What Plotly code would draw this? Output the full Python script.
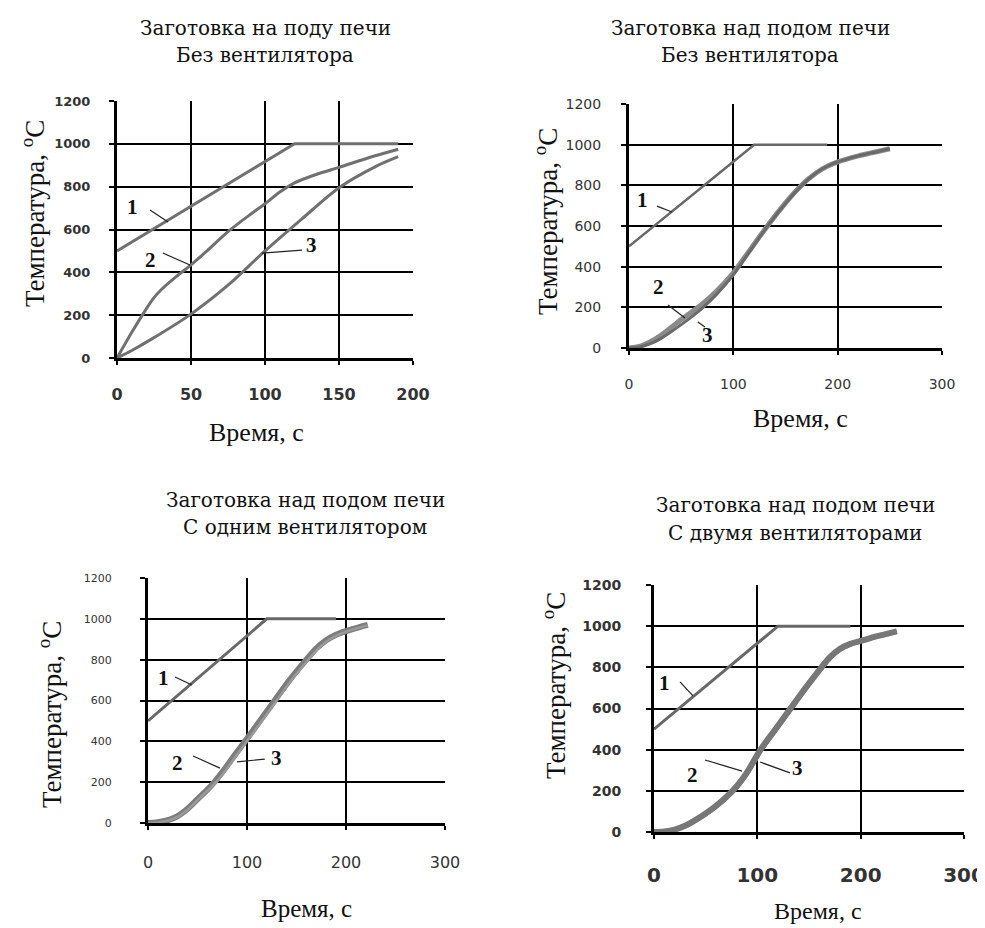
import plotly.graph_objects as go

W, H = 985, 928
OFF = 8  # page body margin of the browser

# ---------------- data ----------------
# Panel 1: billet on furnace floor, no fan
p1_c1_x = [0, 120, 190]
p1_c1_y = [500, 1000, 1000]
p1_c2_x = [0, 10, 20, 25, 30, 40, 50, 60, 75, 90, 100, 110, 120, 135, 150, 170, 190]
p1_c2_y = [0, 120, 232, 282, 320, 380, 435, 495, 590, 670, 720, 775, 818, 858, 890, 935, 975]
p1_c3_x = [0, 10, 25, 50, 75, 100, 125, 150, 175, 190]
p1_c3_y = [0, 35, 95, 205, 340, 500, 650, 795, 895, 940]

# Panel 2: billet above floor, no fan
p2_c1_x = [0, 120, 190]
p2_c1_y = [500, 1000, 1000]
p2_c2_x = [0, 10, 20, 30, 50, 70, 85, 100, 115, 130, 145, 160, 172, 185, 200, 220, 250]
p2_c2_y = [0, 8, 30, 60, 140, 215, 285, 370, 475, 582, 682, 772, 832, 880, 915, 945, 980]
p2_c3_x = [0, 10, 20, 30, 50, 70, 85, 100, 115, 130, 145, 160, 172, 185, 200, 220, 250]
p2_c3_y = [0, 5, 20, 45, 115, 195, 270, 360, 470, 580, 680, 770, 830, 880, 915, 945, 980]

# Panel 3: billet above floor, one fan
p3_c1_x = [0, 120, 190]
p3_c1_y = [500, 1000, 1000]
p3_c2_x = [0, 10, 20, 30, 40, 50, 60, 67, 78, 88, 98, 113, 128, 143, 160, 170, 180, 190, 200, 212, 222]
p3_c2_y = [0, 4, 14, 34, 70, 117, 163, 200, 268, 335, 400, 500, 600, 700, 800, 855, 895, 922, 940, 957, 970]
p3_c3_x = [0, 10, 20, 30, 40, 50, 60, 69, 80, 90, 100, 115, 130, 145, 162, 172, 182, 192, 200, 212, 222]
p3_c3_y = [0, 3, 12, 30, 65, 112, 158, 200, 268, 335, 400, 500, 600, 700, 800, 855, 895, 922, 937, 955, 968]

# Panel 4: billet above floor, two fans
p4_c1_x = [0, 120, 190]
p4_c1_y = [500, 1000, 1000]
p4_c2_x = [0, 10, 20, 30, 40, 50, 60, 70, 80, 90, 103, 118, 132, 147, 162, 170, 180, 190, 200, 215, 235]
p4_c2_y = [0, 3, 12, 30, 58, 90, 127, 170, 222, 290, 400, 503, 600, 703, 800, 848, 890, 914, 928, 950, 975]
p4_c3_x = [0, 10, 20, 30, 40, 50, 60, 70, 81, 91, 104, 119, 133, 148, 163, 171, 181, 191, 201, 216, 235]
p4_c3_y = [0, 2, 10, 27, 54, 86, 122, 165, 220, 288, 398, 501, 598, 701, 798, 846, 888, 912, 927, 949, 973]

y_ticks = [0, 200, 400, 600, 800, 1000, 1200]
x_ticks_p1 = [0, 50, 100, 150, 200]
x_ticks_300 = [0, 100, 200, 300]

titles = [
    ("Заготовка на поду печи", "Без вентилятора"),
    ("Заготовка над подом печи", "Без вентилятора"),
    ("Заготовка над подом печи", "С одним вентилятором"),
    ("Заготовка над подом печи", "С двумя вентиляторами"),
]
x_title = "Время, с"
y_title = "Температура, <sup>o</sup>C"

# ---------------- layout helpers ----------------
def pxx(a):
    return (a - OFF) / W

def pxy(b):
    return 1 - (b - OFF) / H

def px_dom(a, b):
    return [pxx(a), pxx(b)]

def py_dom(top, bottom):
    return [pxy(bottom), pxy(top)]

panels = [
    dict(xd=px_dom(117, 413), yd=py_dom(101, 358), xr=[0, 200], xt=x_ticks_p1,
         yfs=13, xfs=16, bold=True, ystand=16, xstand=16),
    dict(xd=px_dom(629, 942), yd=py_dom(104, 348), xr=[0, 300], xt=x_ticks_300,
         yfs=14, xfs=14, bold=False, ystand=17, xstand=17),
    dict(xd=px_dom(148, 445), yd=py_dom(578, 823), xr=[0, 300], xt=x_ticks_300,
         yfs=11, xfs=16, bold=False, ystand=26, xstand=19),
    dict(xd=px_dom(654, 964), yd=py_dom(585, 832), xr=[0, 300], xt=x_ticks_300,
         yfs=14, xfs=20, bold=True, ystand=22, xstand=19),
]

fig = go.Figure()

series = [
    [(p1_c1_x, p1_c1_y), (p1_c2_x, p1_c2_y), (p1_c3_x, p1_c3_y)],
    [(p2_c1_x, p2_c1_y), (p2_c2_x, p2_c2_y), (p2_c3_x, p2_c3_y)],
    [(p3_c1_x, p3_c1_y), (p3_c2_x, p3_c2_y), (p3_c3_x, p3_c3_y)],
    [(p4_c1_x, p4_c1_y), (p4_c2_x, p4_c2_y), (p4_c3_x, p4_c3_y)],
]

styles = [
    [dict(color="#707070", width=3), dict(color="#707070", width=3), dict(color="#707070", width=3)],
    [dict(color="#686868", width=2.5), dict(color="#8a8a8a", width=5), dict(color="#6a6a6a", width=3)],
    [dict(color="#686868", width=3), dict(color="#7c7c7c", width=6), dict(color="#999999", width=2.5)],
    [dict(color="#686868", width=3), dict(color="#777777", width=6), dict(color="#777777", width=4)],
]

for i, ser in enumerate(series):
    sfx = "" if i == 0 else str(i + 1)
    for j, (xs, ys) in enumerate(ser):
        fig.add_trace(go.Scatter(
            x=xs, y=ys, mode="lines",
            line=dict(shape="spline", smoothing=0.8 if j else 0, **styles[i][j]),
            xaxis="x" + sfx, yaxis="y" + sfx, showlegend=False, hoverinfo="skip"))

layout = dict(
    width=W, height=H, margin=dict(l=0, r=0, t=0, b=0, autoexpand=False),
    paper_bgcolor="white", plot_bgcolor="white", showlegend=False,
)
for i, p in enumerate(panels):
    sfx = "" if i == 0 else str(i + 1)
    fw = "bold" if p["bold"] else "normal"
    layout["xaxis" + sfx] = dict(
        domain=p["xd"], range=p["xr"], tickvals=p["xt"], anchor="y" + sfx,
        automargin=False,
        showgrid=True, gridcolor="black", gridwidth=1.5, zeroline=False,
        showline=True, linecolor="black", linewidth=3,
        ticks="outside", ticklen=4, tickcolor="black", tickwidth=1.5,
        ticklabelstandoff=p["xstand"],
        tickfont=dict(family="DejaVu Sans", size=p["xfs"], color="#333", weight=fw),
        fixedrange=True)
    layout["yaxis" + sfx] = dict(
        domain=p["yd"], range=[0, 1200], tickvals=y_ticks, anchor="x" + sfx,
        automargin=False,
        showgrid=True, gridcolor="black", gridwidth=1.5, zeroline=False,
        showline=True, linecolor="black", linewidth=3,
        ticks="outside", ticklen=5, tickcolor="black", tickwidth=1.5,
        ticklabelstandoff=p["ystand"],
        tickfont=dict(family="DejaVu Sans", size=p["yfs"], color="#333", weight=fw),
        fixedrange=True)
fig.update_layout(**layout)

SERIF = "Liberation Serif, Times New Roman, serif"
SLAB = "DejaVu Serif, serif"
ann = []

# panel titles (two lines each)
title_pos = [(265, 28, 55), (750, 28, 55), (305, 500, 527), (795, 505, 533)]
for (l1, l2), (cx, y1, y2) in zip(titles, title_pos):
    for txt, yy in ((l1, y1), (l2, y2)):
        ann.append(dict(text=txt, x=pxx(cx), y=pxy(yy), xref="paper", yref="paper",
                        showarrow=False, xanchor="center", yanchor="middle",
                        font=dict(family=SLAB, size=20, color="#111")))

# axis titles
xt_pos = [(256, 432, 26), (800, 418, 26), (306, 908, 25), (818, 911, 24)]
for cx, cy, fs in xt_pos:
    ann.append(dict(text=x_title, x=pxx(cx), y=pxy(cy), xref="paper", yref="paper",
                    showarrow=False, xanchor="center", yanchor="middle",
                    font=dict(family=SERIF, size=fs, color="#111")))
yt_pos = [(33, 214), (546, 222), (50, 715), (554, 686)]
for cx, cy in yt_pos:
    ann.append(dict(text=y_title, x=pxx(cx), y=pxy(cy), xref="paper", yref="paper",
                    showarrow=False, xanchor="center", yanchor="middle", textangle=-90,
                    font=dict(family=SERIF, size=27, color="#111")))

# curve labels and leader lines (data coordinates)
labels = [
    [("1", 10.8, 705, 22.3, 691, 34.5, 635),
     ("2", 22.3, 458, 31, 490, 49.3, 434),
     ("3", 131.7, 528, 98, 490, 125, 504)],
    [("1", 13.4, 728, 26.8, 698, 41.2, 669),
     ("2", 27.8, 300, 37.4, 211, 53.7, 148),
     ("3", 75.7, 64, 66, 128, 72.8, 103)],
    [("1", 15.2, 710, 27.3, 715, 44.4, 676),
     ("2", 29.3, 294, 45.5, 328, 72.7, 269),
     ("3", 130, 318, 89.9, 299, 118, 313)],
    [("1", 10.6, 724, 25.2, 729, 37.7, 661),
     ("2", 36.8, 277, 49.4, 350, 85.2, 296),
     ("3", 139, 311, 102.6, 340, 131.6, 287)],
]
shapes = []
for i, labs in enumerate(labels):
    sfx = "" if i == 0 else str(i + 1)
    for txt, tx, ty, x0, y0, x1, y1 in labs:
        ann.append(dict(text="<b>" + txt + "</b>", x=tx, y=ty, xref="x" + sfx, yref="y" + sfx,
                        showarrow=False, xanchor="center", yanchor="middle",
                        font=dict(family=SERIF, size=21, color="#111")))
        shapes.append(dict(type="line", x0=x0, y0=y0, x1=x1, y1=y1,
                           xref="x" + sfx, yref="y" + sfx,
                           line=dict(color="#222", width=1.2)))

fig.update_layout(annotations=ann, shapes=shapes)
fig.write_html("out.html")
